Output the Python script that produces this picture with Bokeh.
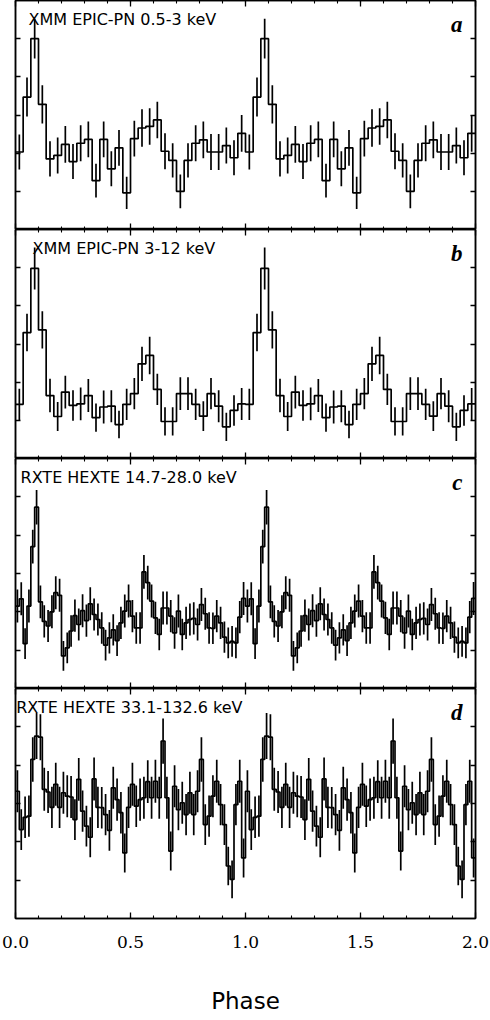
import numpy as np
from bokeh.plotting import figure
from bokeh.models import (Range1d, LinearAxis, SingleIntervalTicker, FixedTicker,
                          Label, PrintfTickFormatter)
from bokeh.layouts import column
from bokeh.embed import file_html
from bokeh.resources import INLINE

# ---------------- data (one pulse cycle, repeated twice) ----------------
n_cycles = 2
x_tick_interval = 0.5
x_minor_per_major = 5
y_ticks = [1, 2, 3, 4, 5]
y_min, y_max = 0, 6

label_a = "XMM EPIC-PN 0.5-3 keV"
label_b = "XMM EPIC-PN 3-12 keV"
label_c = "RXTE HEXTE 14.7-28.0 keV"
label_d = "RXTE HEXTE 33.1-132.6 keV"
letters = ["a", "b", "c", "d"]
xlabel = "Phase"

a_val = [2.03, 3.47, 5.00, 3.28, 1.85, 1.94, 2.23, 1.78, 2.26, 2.36,
         1.28, 2.36, 1.59, 2.14, 0.96, 2.38, 2.66, 2.70, 2.87, 2.05,
         1.81, 1.00, 1.81, 2.26, 2.35, 2.03, 2.03, 2.20, 1.88, 2.52]
a_err = [0.46, 0.51, 0.52, 0.50, 0.46, 0.47, 0.48, 0.46, 0.47, 0.47,
         0.44, 0.47, 0.46, 0.47, 0.42, 0.47, 0.49, 0.48, 0.48, 0.47,
         0.45, 0.44, 0.45, 0.47, 0.48, 0.47, 0.47, 0.47, 0.46, 0.48]

b_val = [1.42, 3.30, 4.98, 3.37, 1.65, 1.10, 1.74, 1.39, 1.43, 1.65,
         1.07, 1.35, 1.37, 0.89, 1.42, 1.70, 2.48, 2.70, 1.81, 0.97,
         0.97, 1.70, 1.70, 1.42, 1.11, 1.70, 1.37, 0.83, 1.26, 1.43]
b_err = [0.41, 0.49, 0.55, 0.49, 0.44, 0.38, 0.43, 0.40, 0.43, 0.43,
         0.37, 0.43, 0.42, 0.36, 0.41, 0.41, 0.45, 0.49, 0.41, 0.37,
         0.37, 0.43, 0.43, 0.41, 0.39, 0.41, 0.42, 0.37, 0.40, 0.42]

c_val = [2.15, 2.34, 1.17, 2.15, 3.70, 4.73, 2.26, 1.75, 1.63, 2.00,
         2.50, 2.43, 0.85, 1.06, 1.50, 1.90, 1.67, 2.03, 1.77, 2.21,
         1.93, 1.80, 1.58, 1.13, 1.32, 1.53, 1.25, 1.71, 2.02, 2.28,
         1.89, 1.58, 1.58, 3.04, 2.76, 2.28, 1.84, 1.41, 2.10, 2.10,
         1.89, 1.45, 2.02, 1.41, 1.71, 1.80, 1.83, 1.67, 2.19, 1.95,
         1.58, 1.57, 1.89, 1.71, 1.34, 1.19, 1.23, 1.19, 1.86, 2.35]
c_err = [0.43, 0.43, 0.40, 0.43, 0.44, 0.45, 0.43, 0.42, 0.42, 0.43,
         0.43, 0.43, 0.39, 0.40, 0.41, 0.42, 0.42, 0.43, 0.42, 0.43,
         0.42, 0.42, 0.41, 0.40, 0.41, 0.41, 0.40, 0.42, 0.43, 0.43,
         0.42, 0.41, 0.41, 0.44, 0.44, 0.43, 0.42, 0.41, 0.43, 0.43,
         0.42, 0.41, 0.43, 0.41, 0.42, 0.42, 0.42, 0.42, 0.43, 0.42,
         0.41, 0.41, 0.42, 0.42, 0.41, 0.40, 0.40, 0.40, 0.42, 0.43]

d_val = [3.32, 2.32, 2.64, 2.67, 4.15, 4.76, 4.73, 3.37, 3.30, 2.90,
         3.50, 2.90, 3.28, 3.19, 3.17, 2.58, 3.63, 2.80, 2.41, 2.12,
         3.64, 2.90, 2.89, 2.71, 2.30, 3.41, 3.10, 2.76, 1.71, 2.90,
         3.50, 2.93, 3.10, 3.15, 3.57, 3.15, 3.58, 3.15, 4.63, 3.15,
         1.76, 3.45, 2.84, 3.02, 2.71, 3.28, 2.71, 3.32, 4.15, 2.45,
         2.67, 3.19, 3.58, 2.97, 2.45, 1.37, 1.02, 2.97, 3.58, 1.58]
d_err = [0.55, 0.53, 0.54, 0.54, 0.58, 0.60, 0.60, 0.56, 0.55, 0.54,
         0.56, 0.54, 0.55, 0.55, 0.55, 0.53, 0.56, 0.54, 0.53, 0.52,
         0.56, 0.54, 0.54, 0.54, 0.53, 0.55, 0.55, 0.54, 0.51, 0.54,
         0.56, 0.54, 0.55, 0.55, 0.56, 0.55, 0.56, 0.55, 0.59, 0.55,
         0.51, 0.55, 0.54, 0.55, 0.54, 0.55, 0.54, 0.55, 0.58, 0.53,
         0.54, 0.55, 0.56, 0.54, 0.53, 0.50, 0.49, 0.54, 0.56, 0.51]

panels = [
    (label_a, 0.0565, a_val, a_err),
    (label_b, 0.074, b_val, b_err),
    (label_c, 0.022, c_val, c_err),
    (label_d, 0.003, d_val, d_err),
]

FRAME_W = 460
FRAME_HS = [229, 229, 230, 230]
LW = 1.7


def add_x_axis(p, loc, labels=False):
    ax = LinearAxis(
        ticker=SingleIntervalTicker(interval=x_tick_interval,
                                    num_minor_ticks=x_minor_per_major),
        major_tick_in=6, major_tick_out=0,
        minor_tick_in=3, minor_tick_out=0,
        axis_line_color="black", axis_line_width=1.5,
        major_tick_line_color="black", major_tick_line_width=1.3,
        minor_tick_line_color="black", minor_tick_line_width=1.1,
    )
    if labels:
        ax.formatter = PrintfTickFormatter(format="%.1f")
        ax.major_label_text_font = "DejaVu Serif"
        ax.major_label_text_font_size = "17px"
        ax.major_label_text_color = "black"
        ax.major_label_standoff = 17
        ax.axis_label = xlabel
        ax.axis_label_text_font = "DejaVu Sans"
        ax.axis_label_text_font_size = "23px"
        ax.axis_label_text_font_style = "normal"
        ax.axis_label_text_color = "black"
        ax.axis_label_standoff = 37
    else:
        ax.major_label_text_font_size = "0px"
        ax.major_label_standoff = 0
        ax.major_label_text_color = None
    p.add_layout(ax, loc)


def add_y_axis(p, loc):
    ax = LinearAxis(
        ticker=FixedTicker(ticks=y_ticks, minor_ticks=[]),
        major_tick_in=5, major_tick_out=0,
        minor_tick_in=0, minor_tick_out=0,
        axis_line_color="black", axis_line_width=1.5,
        major_tick_line_color="black", major_tick_line_width=1.3,
        major_label_text_font_size="0px", major_label_standoff=0,
        major_label_text_color=None,
    )
    p.add_layout(ax, loc)


figs = []
for i, (lab, lab_x, vals, errs) in enumerate(panels):
    nb = len(vals)
    vals2 = np.array(vals * n_cycles)
    errs2 = np.array(errs * n_cycles)
    edges = np.arange(nb * n_cycles + 1) / nb
    centers = (edges[:-1] + edges[1:]) / 2
    ys = np.append(vals2, vals2[-1])

    p = figure(frame_width=FRAME_W, frame_height=FRAME_HS[i],
               x_range=Range1d(0, n_cycles), y_range=Range1d(y_min, y_max),
               output_backend="svg", toolbar_location=None,
               x_axis_location=None, y_axis_location=None,
               min_border_left=15, min_border_right=15,
               min_border_top=0, min_border_bottom=0,
               background_fill_color="white", border_fill_color="white",
               outline_line_color="black", outline_line_width=1.5)
    p.xgrid.visible = False
    p.ygrid.visible = False

    add_x_axis(p, "above")
    add_x_axis(p, "below", labels=(i == len(panels) - 1))
    add_y_axis(p, "left")
    add_y_axis(p, "right")

    p.step(x=edges, y=ys, mode="after", line_color="black", line_width=LW)
    p.segment(x0=centers, y0=vals2 - errs2, x1=centers, y1=vals2 + errs2,
              line_color="black", line_width=LW)

    p.add_layout(Label(x=lab_x, y=5.51, text=lab, text_font="DejaVu Sans",
                       text_font_size="16px", text_baseline="middle",
                       text_align="left", text_color="black"))
    p.add_layout(Label(x=1.943, y=5.38, text=letters[i],
                       text_font="Liberation Serif",
                       text_font_style="bold italic", text_font_size="23px",
                       text_baseline="alphabetic", text_align="right",
                       text_color="black"))
    figs.append(p)

layout = column(*figs, spacing=0)
open("out.html", "w").write(file_html(layout, INLINE))
